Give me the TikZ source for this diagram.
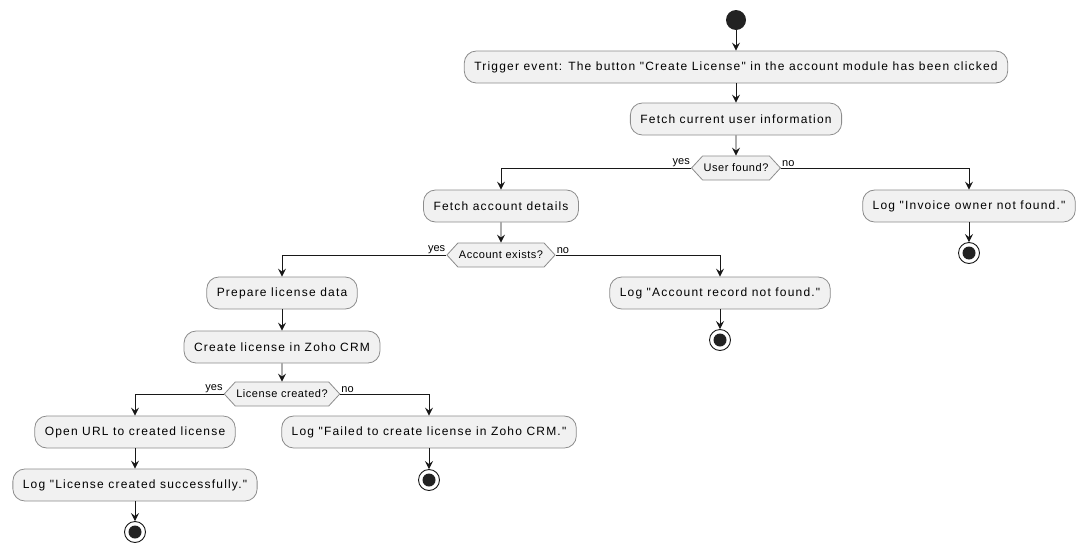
\documentclass[tikz,border=0pt]{standalone}
\usepackage{fontspec}
\setmainfont{Liberation Sans}
\newfontfamily\actfont[LetterSpace=10]{Liberation Sans}
\newfontfamily\decfont[LetterSpace=5]{Liberation Sans}
\usetikzlibrary{arrows.meta,shapes.symbols}
\definecolor{actfill}{HTML}{F1F1F1}
\definecolor{actline}{HTML}{181818}
\definecolor{actbord}{HTML}{8C8C8C}
\definecolor{actdark}{HTML}{222222}

\begin{document}
\begin{tikzpicture}[x=1pt,y=-1pt,
    act/.style={draw=actbord,fill=actfill,rounded corners=12pt,line width=0.8pt,
      minimum height=32pt,inner xsep=10pt,font=\actfont\fontsize{12}{14}\selectfont},
    dec/.style={signal,signal to=west and east,signal pointer angle=95,draw=actbord,
      fill=actfill,line width=0.8pt,minimum height=24pt,inner xsep=1pt,inner ysep=0pt,
      font=\decfont\fontsize{11}{13}\selectfont},
    lbl/.style={inner sep=1pt,font=\fontsize{11}{13}\selectfont},
    start/.style={circle,fill=actdark,minimum size=20pt,inner sep=0pt},
    stop/.style={circle,draw=actline,fill=white,line width=0.9pt,minimum size=21pt,inner sep=0pt,
      path picture={\fill[actdark] (path picture bounding box.center) circle (6.5pt);}},
    flow/.style={draw=actline,line width=0.9pt,-{Stealth[length=8pt,width=8pt,inset=3pt]}}]

    \useasboundingbox (0,0) rectangle (1089,554);

    %==================== Top: trigger and user ====================
    \node[start] (st) at (736,20) {};
    \node[act] (trig) at (736,67) {Trigger event: The button "Create License" in the account module has been clicked};
    \node[act] (user) at (736,119) {Fetch current user information};
    \node[dec] (d1) at (736,168) {User found?};

    % Branches of the user check
    \node[act] (acc) at (501,206) {Fetch account details};
    \node[act] (noinv) at (969,206) {Log "Invoice owner not found."};
    \node[stop] (e1) at (969,253) {};

    %==================== Account check ====================
    \node[dec] (d2) at (501,255) {Account exists?};
    \node[act] (prep) at (282,293) {Prepare license data};
    \node[act] (noacc) at (720,293) {Log "Account record not found."};
    \node[stop] (e2) at (720,340) {};
    \node[act] (crm) at (282,347) {Create license in Zoho CRM};

    %==================== License check ====================
    \node[dec] (d3) at (282,394) {License created?};
    \node[act] (url) at (135,432) {Open URL to created license};
    \node[act] (fail) at (429,432) {Log "Failed to create license in Zoho CRM."};
    \node[stop] (e3) at (429,480) {};
    \node[act] (ok) at (135,485) {Log "License created successfully."};
    \node[stop] (e4) at (135,532) {};

    % Straight flows
    \foreach \a/\b in {st/trig,trig/user,user/d1,acc/d2,prep/crm,crm/d3,
                       url/ok,noinv/e1,noacc/e2,fail/e3,ok/e4} {
      \draw[flow] (\a) -- (\b);
    }

    % Decision branches with yes/no labels
    \foreach \d/\l/\r in {d1/acc/noinv,d2/prep/noacc,d3/url/fail} {
      \draw[flow] (\d.west) -| (\l.north);
      \draw[flow] (\d.east) -| (\r.north);
      \node[lbl,anchor=south east] (\d-yes) at (\d.west) {yes};
      \node[lbl,anchor=south west] (\d-no) at (\d.east) {no};
    }

  \end{tikzpicture}
\end{document}
